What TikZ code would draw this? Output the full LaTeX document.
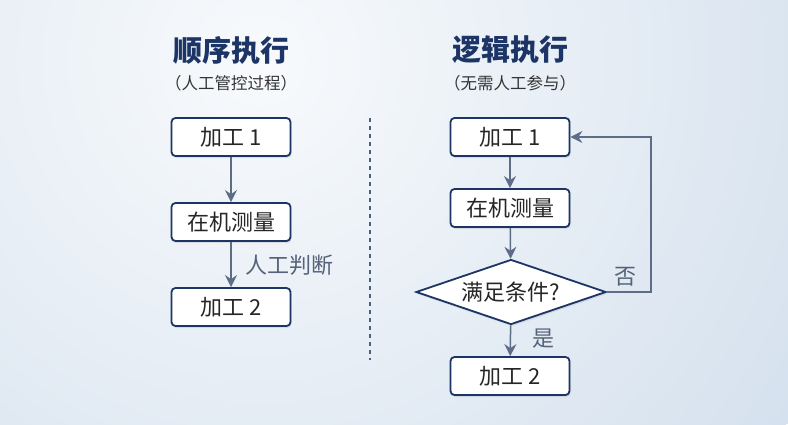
\documentclass[tikz,border=0pt]{standalone}
\usepackage{fontspec}
\setmainfont{Noto Sans CJK SC}
\usetikzlibrary{shapes.geometric,arrows.meta,shadows,positioning}
\definecolor{navy}{HTML}{1C3566}
\definecolor{arr}{HTML}{5D6D88}
\definecolor{bgA}{HTML}{F8FAFC}
\definecolor{bgB}{HTML}{D5E1EE}
\begin{document}
\begin{tikzpicture}[x=1pt,y=-1pt,
  box/.style={draw=navy,line width=1.8pt,rounded corners=4pt,fill=white,minimum width=119pt,minimum height=38pt,inner sep=0pt,font=\fontsize{22}{24}\selectfont,text=black!85,drop shadow={shadow xshift=1pt,shadow yshift=-2pt,opacity=0.18}},
  dia/.style={draw=navy,line width=1.8pt,diamond,aspect=2.9,fill=white,minimum width=190pt,minimum height=65pt,inner sep=0pt,font=\fontsize{22}{24}\selectfont,text=black!85,drop shadow={shadow xshift=1pt,shadow yshift=-2pt,opacity=0.18}},
  ttl/.style={font=\fontsize{29}{32}\selectfont\bfseries,text=navy},
  sub/.style={font=\fontsize{16.5}{18}\selectfont,text=black!80},
  lbl/.style={font=\fontsize{22}{24}\selectfont,text=arr!90!black},
  flow/.style={draw=arr,line width=1.5pt,-{Stealth[length=12pt,width=12pt,inset=4pt]}}
]
\useasboundingbox (0,0) rectangle (788,424);
\begin{scope}
\clip (0,0) rectangle (788,424);
\fill[bgB] (0,0) rectangle (788,424);
\shade[inner color=bgA,outer color=bgB] (260,60) circle (640);
\end{scope}

\node[ttl] (t1) at (231,50) {顺序执行};
\node[sub] (s1) at (231,83) {（人工管控过程）};
\node[ttl] (t2) at (510,50) {逻辑执行};
\node[sub] (s2) at (510,83) {（无需人工参与）};

\coordinate (d1) at (370,118);
\coordinate (d2) at (370,360);
\draw[navy!80,line width=1.4pt,dash pattern=on 4pt off 4pt] (d1) -- (d2);

\node[box] (a1) at (231,137) {加工 1};
\node[box] (a2) at (231,222) {在机测量};
\node[box] (a3) at (231,307) {加工 2};
\draw[flow] (a1) -- (a2);
\draw[flow] (a2) -- (a3);
\node[lbl,anchor=west] (hj) at (242,265) {人工判断};

\node[box] (b1) at (510,137) {加工 1};
\node[box] (b2) at (510,208) {在机测量};
\node[dia] (b3) at (511,292) {满足条件?};
\node[box] (b4) at (510,376) {加工 2};
\draw[flow] (b1) -- (b2);
\draw[flow] (b2) -- (b3);
\draw[flow] (b3) -- (b4);
\coordinate (c1) at (651,292);
\coordinate (c2) at (651,137);
\draw[flow,line width=1.1pt] (b3.east) -- (c1) -- (c2) -- (b1.east);
\node[lbl] (no) at (625,277) {否};
\node[lbl] (yes) at (543,339) {是};
\end{tikzpicture}
\end{document}
